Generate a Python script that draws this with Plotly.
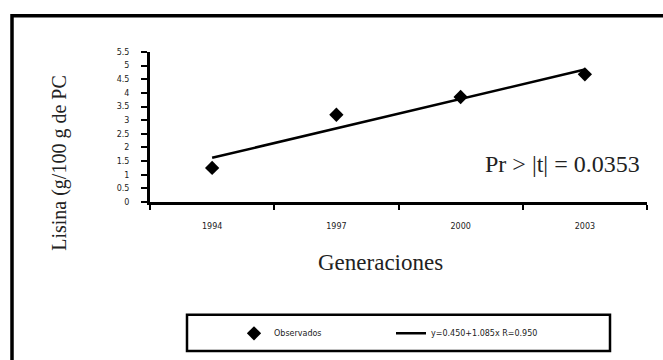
import plotly.graph_objects as go

# Data
generaciones = ["1994", "1997", "2000", "2003"]
observados = [1.25, 3.2, 3.85, 4.68]
tendencia = [1.62, 2.70, 3.78, 4.86]
y_ticks = [0, 0.5, 1, 1.5, 2, 2.5, 3, 3.5, 4, 4.5, 5, 5.5]
y_ticktext = ["0", "0.5", "1", "1.5", "2", "2.5", "3", "3.5", "4", "4.5", "5", "5.5"]
ecuacion = "y=0.450+1.085x R=0.950"

fig = go.Figure()
fig.add_trace(go.Scatter(
    x=generaciones, y=observados, mode="markers", name="Observados",
    marker=dict(symbol="diamond", size=11, color="black"),
))
fig.add_trace(go.Scatter(
    x=generaciones, y=tendencia, mode="lines", name=ecuacion,
    line=dict(color="black", width=2.5),
))

W, H = 663, 360
L, R, T, B = 150, 16, 52, 155
pw, ph = W - L - R, H - T - B

def px(x):
    return (x - L) / pw

def py(y):
    return (H - B - y) / ph

small = dict(family="DejaVu Sans", size=8, color="#222")
serif = "Liberation Serif"

fig.update_layout(
    width=W, height=H,
    margin=dict(l=L, r=R, t=T, b=B),
    paper_bgcolor="white", plot_bgcolor="white",
    showlegend=True,
    legend=dict(
        orientation="h", x=px(234), y=py(339), xanchor="left", yanchor="middle",
        font=small, bgcolor="rgba(0,0,0,0)", borderwidth=0,
        entrywidth=112, entrywidthmode="pixels",
    ),
    xaxis=dict(
        type="category", range=[-0.5, 3.5], tickson="boundaries",
        ticks="outside", ticklen=5, tickwidth=2, tickcolor="black",
        showline=True, linecolor="black", linewidth=3,
        showgrid=False, zeroline=False, tickfont=small, ticklabelstandoff=14,
    ),
    yaxis=dict(
        range=[0, 5.5], tickvals=y_ticks, ticktext=y_ticktext,
        ticks="outside", ticklen=6, tickwidth=2, tickcolor="black",
        showline=True, linecolor="black", linewidth=3,
        showgrid=False, zeroline=False, tickfont=small, ticklabelstandoff=10,
    ),
    shapes=[
        dict(type="rect", xref="paper", yref="paper",
             x0=px(12), x1=px(680), y0=py(15), y1=py(380),
             line=dict(color="black", width=3.5), layer="below"),
        dict(type="rect", xref="paper", yref="paper",
             x0=px(187), x1=px(610), y0=py(320), y1=py(357),
             line=dict(color="black", width=2.5), layer="below"),
    ],
    annotations=[
        dict(text="Lisina (g/100 g de PC", xref="paper", yref="paper",
             x=px(60), y=py(165), xanchor="center", yanchor="middle",
             textangle=-90, showarrow=False,
             font=dict(family=serif, size=20, color="#222")),
        dict(text="Generaciones", xref="paper", yref="paper",
             x=px(380), y=py(267), xanchor="center", yanchor="middle",
             showarrow=False,
             font=dict(family=serif, size=23, color="#222")),
        dict(text="Pr > |t| = 0.0353", xref="paper", yref="paper",
             x=px(562), y=py(166), xanchor="center", yanchor="middle",
             showarrow=False,
             font=dict(family=serif, size=24, color="#222")),
    ],
)

fig.write_html("out.html", config={"displayModeBar": False},
               post_script="document.body.style.margin='0';")
